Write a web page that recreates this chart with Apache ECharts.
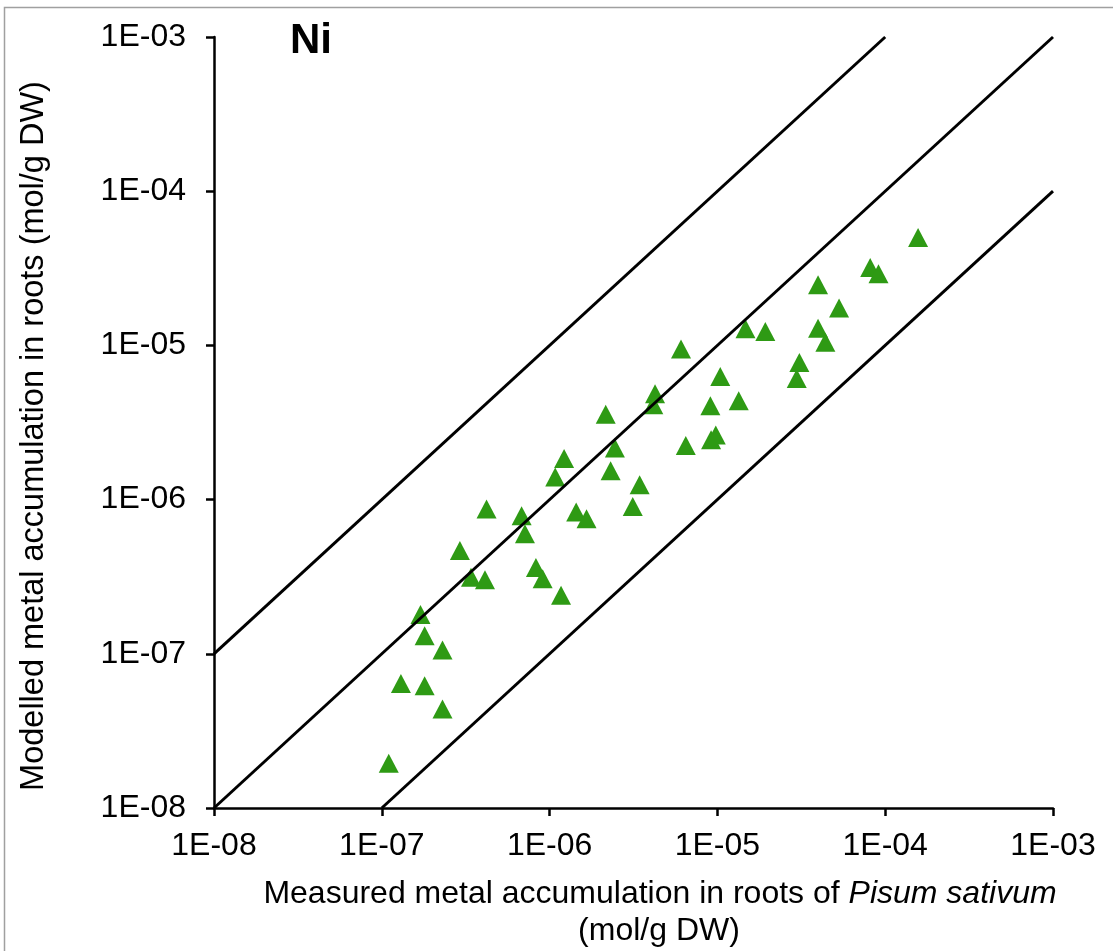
<!DOCTYPE html>
<html>
<head>
<meta charset="utf-8">
<script src="https://cdn.jsdelivr.net/npm/echarts@6/dist/echarts.min.js"></script>
<style>
html,body{margin:0;padding:0;background:#fff;}
#chart{width:1113px;height:951px;}
</style>
</head>
<body>
<div id="chart"></div>
<script>
// Measured (x) and modelled (y) Ni accumulation in roots, mol/g DW
const measured = [
  1.10e-7, 1.30e-7, 1.70e-7, 1.80e-7, 2.30e-7, 1.80e-7, 2.30e-7, 2.92e-7, 3.40e-7, 4.12e-7,
  4.21e-7, 6.81e-7, 7.13e-7, 8.29e-7, 9.09e-7, 1.17e-6, 1.08e-6, 1.22e-6, 1.44e-6, 1.66e-6,
  2.16e-6, 2.31e-6, 2.45e-6, 3.13e-6, 3.44e-6, 4.25e-6, 4.15e-6, 6.07e-6, 6.48e-6, 9.17e-6,
  9.78e-6, 9.08e-6, 1.04e-5, 1.34e-5, 1.47e-5, 1.93e-5, 2.97e-5, 3.08e-5, 3.98e-5, 3.98e-5,
  4.40e-5, 5.31e-5, 8.14e-5, 9.12e-5, 1.57e-4
];
const modelled = [
  1.95e-8, 6.42e-8, 1.80e-7, 1.31e-7, 1.06e-7, 6.21e-8, 4.38e-8, 4.68e-7, 3.14e-7, 3.02e-7,
  8.68e-7, 7.85e-7, 6.00e-7, 3.63e-7, 3.07e-7, 2.40e-7, 1.40e-6, 1.85e-6, 8.30e-7, 7.50e-7,
  3.58e-6, 1.54e-6, 2.16e-6, 9.02e-7, 1.25e-6, 4.85e-6, 4.12e-6, 9.49e-6, 2.24e-6, 2.44e-6,
  2.62e-6, 4.06e-6, 6.28e-6, 4.37e-6, 1.28e-5, 1.23e-5, 6.09e-6, 7.74e-6, 2.47e-5, 1.29e-5,
  1.05e-5, 1.75e-5, 3.20e-5, 2.92e-5, 5.00e-5
];
// Reference lines: 1:1, 10x over, 10x under
const lineOneToOne = [[1e-8, 1e-8], [1e-3, 1e-3]];
const lineTenOver  = [[1e-8, 1e-7], [1e-4, 1e-3]];
const lineTenUnder = [[1e-7, 1e-8], [1e-3, 1e-4]];
const tickLabels = ['1E-08', '1E-07', '1E-06', '1E-05', '1E-04', '1E-03'];
const panelLabel = 'Ni';
const xTitle = 'Measured metal accumulation in roots of ';
const xTitleItalic = 'Pisum sativum';
const xTitleUnit = '(mol/g DW)';
const yTitle = 'Modelled metal accumulation in roots (mol/g DW)';

const FONT = "'Liberation Sans', Arial, sans-serif";
const points = measured.map((x, i) => [x, modelled[i]]);
function fmt(v) {
  const e = Math.round(Math.log10(v));
  return tickLabels[e + 8] !== undefined ? tickLabels[e + 8] : '';
}
const axisCommon = {
  type: 'log', logBase: 10, min: 1e-8, max: 1e-3, interval: 1,
  axisLine: { show: true, lineStyle: { color: '#000', width: 2.5 } },
  axisTick: { show: true, inside: false, length: 8, lineStyle: { color: '#000', width: 2.5 } },
  splitLine: { show: false },
  minorTick: { show: false },
  minorSplitLine: { show: false }
};
const chart = echarts.init(document.getElementById('chart'));
const lineStyle = { color: '#000', width: 3 };
chart.setOption({
  animation: false,
  backgroundColor: '#fff',
  grid: { left: 214, right: 60, top: 37, bottom: 143, containLabel: false },
  xAxis: Object.assign({}, axisCommon, {
    axisLabel: { formatter: fmt, color: '#000', fontSize: 32, fontFamily: FONT, margin: 22 }
  }),
  yAxis: Object.assign({}, axisCommon, {
    axisLabel: { formatter: fmt, color: '#000', fontSize: 32, fontFamily: FONT, margin: 28 }
  }),
  series: [
    { type: 'scatter', data: points, symbol: 'triangle', symbolSize: [20, 19],
      itemStyle: { color: '#2e9a14', opacity: 1 }, z: 2 },
    { type: 'line', data: lineOneToOne, symbol: 'none', lineStyle: lineStyle, z: 3, clip: true },
    { type: 'line', data: lineTenOver, symbol: 'none', lineStyle: lineStyle, z: 3, clip: true },
    { type: 'line', data: lineTenUnder, symbol: 'none', lineStyle: lineStyle, z: 3, clip: true }
  ],
  graphic: [
    { type: 'rect', shape: { x: 4.5, y: 7.5, width: 1200, height: 1000 },
      style: { fill: 'none', stroke: '#a0a0a0', lineWidth: 1.5 }, z: -1, silent: true },
    { type: 'text', x: 290, y: 41,
      style: { text: panelLabel, font: "bold 42px " + FONT, fill: '#000', align: 'left', verticalAlign: 'middle' } },
    { type: 'text', x: 34, y: 436, rotation: Math.PI / 2,
      style: { text: yTitle, font: "32.5px " + FONT, fill: '#000', align: 'center', verticalAlign: 'middle' } },
    { type: 'text', x: 660, y: 894,
      style: { text: '{n|' + xTitle + '}{i|' + xTitleItalic + '}',
        align: 'center', verticalAlign: 'middle',
        rich: {
          n: { fontSize: 32, fontFamily: FONT, color: '#000' },
          i: { fontSize: 32, fontFamily: FONT, fontStyle: 'italic', color: '#000' }
        } } },
    { type: 'text', x: 659, y: 931,
      style: { text: xTitleUnit, font: "32px " + FONT, fill: '#000', align: 'center', verticalAlign: 'middle' } }
  ]
});
</script>
</body>
</html>
